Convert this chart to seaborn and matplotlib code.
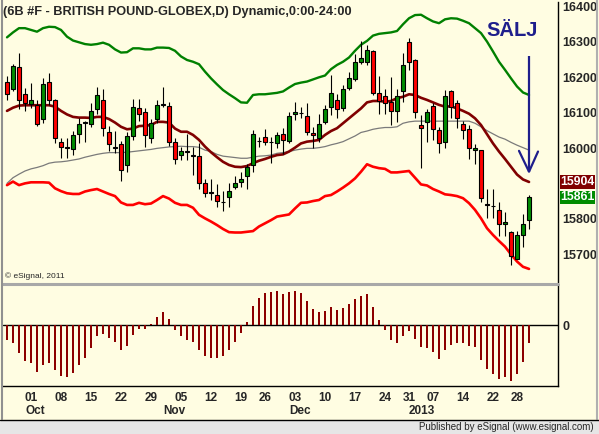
import numpy as np
import pandas as pd
import matplotlib
matplotlib.use("Agg")
import matplotlib.pyplot as plt
import matplotlib.transforms as mtransforms
from matplotlib.patches import Rectangle
from matplotlib.lines import Line2D
import seaborn as sns

sns.set_style("white")
plt.rcParams['font.family'] = ['Liberation Sans', 'DejaVu Sans']

# ---------------- data ----------------
holidays = ["2012-11-22", "2012-12-25", "2013-01-01", "2013-01-21"]
dates = [d for d in pd.bdate_range("2012-09-25", "2013-01-30") if d.strftime("%Y-%m-%d") not in holidays]

opens = [16186,16166,16228,16152,16125,16123,16081,16187,16137,16017,16003,15996,16041,16073,16069,
         16109,16137,16044,16003,16010,15953,16035,16114,16101,16027,16081,16125,16120,16016,15980,
         15991,15979,15978,15900,15874,15868,15847,15862,15890,15904,15921,15953,16021,16030,16017,
         16015,16039,16019,16095,16099,16090,16043,16029,16074,16117,16137,16112,16169,16194,16244,
         16244,16274,16157,16147,16131,16105,16162,16299,16249,16064,16074,16119,16050,16016,16160,
         16126,16068,16055,15994,15994,15841,15837,15826,15786,15763,15687,15755,15796]
highs = [16204,16237,16268,16169,16183,16137,16197,16211,16139,16027,16027,16048,16085,16076,16126,
         16173,16167,16062,16048,16020,16044,16138,16138,16114,16081,16137,16172,16129,16029,16003,
         16041,16003,16013,15912,15912,15897,15878,15900,15921,15933,15956,16051,16032,16055,16032,
         16046,16058,16102,16129,16117,16126,16060,16096,16123,16206,16152,16178,16214,16265,16302,
         16291,16276,16203,16167,16201,16167,16268,16312,16253,16093,16109,16126,16060,16164,16164,
         16135,16076,16065,16010,15995,15885,15885,15848,15820,15765,15765,15812,15868]
lows = [16135,16161,16109,16104,16112,16062,16071,16123,16015,15972,15972,15980,16015,16018,16059,
        16097,16035,15991,15987,15907,15933,16024,16076,16002,16013,16072,16117,16005,15956,15965,
        15965,15923,15885,15862,15852,15833,15822,15833,15884,15890,15884,15933,16003,16008,15958,
        16001,15983,16015,16079,16084,16036,16001,16018,16068,16093,16084,16104,16164,16189,16239,
        16236,16150,16097,16097,16065,16074,16131,16220,16085,15944,16018,16022,15986,16001,16084,
        16057,16025,15970,15956,15848,15801,15801,15752,15752,15670,15687,15720,15772]
closes = [16152,16232,16137,16126,16135,16069,16180,16137,16027,16002,16001,16038,16067,16072,16106,
          16150,16058,16010,16001,15939,16033,16117,16095,16038,16072,16123,16123,16018,15970,15991,
          15989,15977,15902,15874,15873,15851,15846,15878,15900,15912,15945,16041,16020,16018,16016,
          16036,16024,16090,16103,16098,16046,16036,16068,16109,16157,16111,16167,16199,16242,16255,
          16277,16157,16133,16126,16105,16147,16236,16242,16102,16058,16101,16055,16013,16147,16117,
          16084,16052,16001,16001,15859,15840,15836,15786,15791,15695,15753,15784,15861]

upper_band = [16313,16327,16339,16339,16334,16329,16339,16343,16342,16334,16315,16304,16299,16294,16292,
              16294,16298,16292,16279,16270,16271,16282,16282,16279,16279,16284,16284,16283,16275,16259,
              16249,16244,16237,16216,16197,16180,16164,16152,16141,16129,16128,16150,16152,16152,16154,
              16156,16160,16171,16181,16185,16188,16194,16200,16205,16223,16235,16244,16256,16275,16292,
              16303,16318,16323,16325,16327,16331,16350,16367,16376,16377,16367,16358,16353,16364,16367,
              16366,16360,16353,16339,16325,16301,16273,16244,16221,16197,16174,16157,16150]
mid_line = [16105,16114,16120,16121,16121,16121,16121,16121,16117,16105,16095,16088,16086,16086,16085,
            16088,16088,16082,16072,16060,16053,16055,16062,16063,16065,16074,16074,16072,16055,16046,
            16046,16037,16023,16004,15988,15974,15961,15952,15947,15946,15949,15957,15964,15969,15975,
            15980,15982,15990,16001,16013,16018,16020,16023,16037,16048,16056,16070,16084,16098,16112,
            16129,16133,16133,16131,16133,16141,16145,16152,16150,16142,16136,16129,16122,16117,16118,
            16112,16105,16097,16084,16065,16039,16013,15990,15969,15947,15925,15911,15904]
slow_line = [15900,15916,15926,15935,15941,15945,15950,15957,15960,15961,15963,15966,15969,15974,15978,
             15982,15985,15987,15987,15987,15988,15990,15992,15994,15996,15999,16001,16003,16004,16005,
             16004,16004,16002,15994,15990,15982,15977,15975,15973,15971,15971,15974,15977,15978,15980,
             15985,15987,15990,15994,15997,15999,15999,16001,16004,16009,16013,16018,16026,16034,16044,
             16048,16053,16056,16058,16058,16060,16070,16074,16076,16076,16076,16076,16076,16076,16076,
             16076,16076,16076,16070,16060,16049,16040,16031,16025,16016,16008,16001,15994]
lower_band = [15895,15905,15895,15900,15903,15903,15903,15902,15886,15878,15872,15870,15870,15877,15881,
              15884,15877,15870,15864,15846,15839,15839,15845,15841,15843,15853,15864,15857,15845,15839,
              15839,15831,15811,15801,15792,15782,15771,15762,15761,15761,15763,15765,15778,15787,15796,
              15806,15809,15812,15829,15845,15846,15850,15853,15864,15867,15877,15888,15900,15914,15933,
              15954,15947,15943,15941,15931,15931,15933,15935,15916,15897,15894,15884,15877,15869,15867,
              15864,15858,15844,15825,15801,15773,15754,15737,15721,15699,15679,15664,15658]
oscillator = [-45,-53,-83,-107,-115,-140,-120,-113,-135,-152,
              -155,-143,-120,-98,-68,-32,-28,-38,-50,-75,
              -62,-30,-12,-12,4,24,39,18,-15,-32,
              -45,-50,-75,-93,-98,-98,-92,-75,-50,-23,
              9,57,80,95,98,102,93,98,102,95,
              72,48,40,42,55,45,52,63,78,88,
              93,55,15,-15,-45,-53,-32,-18,-42,-65,
              -68,-80,-102,-75,-60,-53,-53,-63,-65,-105,
              -132,-147,-162,-155,-167,-147,-110,-53]

# 15900 is hidden behind the last-value boxes in the reference
price_ticks = [15700, 15800, 16000, 16100, 16200, 16300, 16400]
tick_dates = ["2012-10-01","2012-10-08","2012-10-15","2012-10-22","2012-10-29","2012-11-05",
              "2012-11-12","2012-11-19","2012-11-26","2012-12-03","2012-12-10","2012-12-17",
              "2012-12-24","2012-12-31","2013-01-07","2013-01-14","2013-01-22","2013-01-28"]
tick_labels = ["01","08","15","22","29","05","12","19","26","03","10","17","24","31","07","14","22","28"]
month_dates = ["2012-10-01", "2012-11-01", "2012-12-03", "2013-01-02"]
month_labels = ["Oct", "Nov", "Dec", "2013"]

title = "(6B #F - BRITISH POUND-GLOBEX,D) Dynamic,0:00-24:00"

# ---------------- figure ----------------
W, H = 599, 434
BG = "#FFFDE2"
fig = plt.figure(figsize=(W / 100, H / 100), dpi=100, facecolor=BG)

def fx(px):
    return px / W

def fy(py):
    return 1 - py / H

ax1 = fig.add_axes([fx(3), fy(282), fx(555), (282 - 2) / H])
ax2 = fig.add_axes([fx(3), fy(386), fx(555), (386 - 285) / H])
for ax in (ax1, ax2):
    ax.set_facecolor(BG)

idx = np.arange(len(dates))
date_str = [d.strftime("%Y-%m-%d") for d in dates]
df = pd.DataFrame({"i": idx, "open": opens, "high": highs, "low": lows, "close": closes,
                   "upper": upper_band, "mid": mid_line, "slow": slow_line, "lower": lower_band,
                   "osc": oscillator})

# bands / averages
sns.lineplot(data=df, x="i", y="slow", color="#7A7A7A", lw=0.9, ax=ax1, legend=False)
sns.lineplot(data=df, x="i", y="upper", color="#008000", lw=1.7, ax=ax1, legend=False)
sns.lineplot(data=df, x="i", y="lower", color="#FF0000", lw=1.9, ax=ax1, legend=False)
sns.lineplot(data=df, x="i", y="mid", color="#800000", lw=1.9, ax=ax1, legend=False)

# candles
o = df["open"].to_numpy(); c = df["close"].to_numpy()
ax1.vlines(idx, df["low"], df["high"], color="black", lw=0.8, zorder=3)
body_lo = np.minimum(o, c)
body_h = np.maximum(np.abs(c - o), 1.2)
cols = np.where(c > o + 1, "#008C00", np.where(c < o - 1, "#FF0000", "black"))
ax1.bar(idx, body_h, bottom=body_lo, width=0.72, color=cols, edgecolor="black",
        linewidth=0.8, zorder=4)

ax1.set_xlim(-0.667, 91.83)
ax1.set_ylim(15621, 16413)
ax1.yaxis.tick_right()
ax1.set_yticks(price_ticks)
ax1.set_yticklabels([str(t) for t in price_ticks], fontsize=9, fontweight="bold")
ax1.tick_params(axis="y", length=0, pad=3)
ax1.set_xticks([])
ax1.set_xlabel(""); ax1.set_ylabel("")
for s in ("top", "left", "bottom"):
    ax1.spines[s].set_visible(False)
ax1.spines["right"].set_color("black")
ax1.spines["right"].set_linewidth(1.0)

# last value boxes
tr_box = mtransforms.blended_transform_factory(ax1.transAxes, ax1.transData)
ax1.text(1.004, mid_line[-1], str(mid_line[-1]), transform=tr_box,
         ha="left", va="center", fontsize=8.8, fontweight="bold", color="white",
         bbox=dict(boxstyle="square,pad=0.05", fc="#800000", ec="none"))
ax1.text(1.004, closes[-1], str(closes[-1]), transform=tr_box,
         ha="left", va="center", fontsize=8.8, fontweight="bold", color="white",
         bbox=dict(boxstyle="square,pad=0.05", fc="#008C00", ec="none"))

# SÄLJ arrow
navy = "#1E1E8C"
last = idx[-1]
ax1.plot([last, last], [16259, 15933], color=navy, lw=1.6, solid_capstyle="butt", zorder=5)
ax1.plot([last - 1.67, last, last + 1.5], [15992, 15933, 15990], color=navy, lw=1.6, zorder=5)
fig.text(fx(512), fy(30), "SÄLJ", ha="center", va="center", fontsize=14.5,
         fontweight="bold", color=navy)

# oscillator
ax2.bar(idx, df["osc"], width=0.34, color="#8C0000", linewidth=0, antialiased=False, zorder=3)
ax2.axhline(0, color="black", lw=1.0, zorder=2)
ax2.set_xlim(-0.667, 91.83)
ax2.set_ylim(-183, 120)
ax2.yaxis.tick_right()
ax2.set_yticks([0])
ax2.set_yticklabels(["0"], fontsize=9, fontweight="bold")
ax2.tick_params(axis="y", length=0, pad=3)
tick_pos = [date_str.index(d) for d in tick_dates]
ax2.set_xticks(tick_pos)
ax2.set_xticklabels(tick_labels, fontsize=8.5, fontweight="bold")
ax2.tick_params(axis="x", length=0, pad=4)
ax2.set_xticks([p - 1 for p in tick_pos], minor=True)
ax2.tick_params(axis="x", which="minor", direction="in", length=3, width=0.8, color="black")
ax2.set_xlabel(""); ax2.set_ylabel("")
for s in ("top", "left"):
    ax2.spines[s].set_visible(False)
for s in ("right", "bottom"):
    ax2.spines[s].set_color("black")
    ax2.spines[s].set_linewidth(1.0)

trans_m = mtransforms.blended_transform_factory(ax2.transData, fig.transFigure)
for d, lab in zip(month_dates, month_labels):
    ax2.text(date_str.index(d) - 1, fy(411), lab, transform=trans_m, ha="left", va="center",
             fontsize=8.5, fontweight="bold")

# texts
fig.text(fx(3), fy(12), title, ha="left", va="center", fontsize=9.2, fontweight="bold")
fig.text(fx(5), fy(276), "© eSignal, 2011", ha="left", va="center", fontsize=6)

# frame decorations
fig.add_artist(Line2D([fx(2), fx(558)], [fy(283.5), fy(283.5)], color="#A8A8A8", lw=2.2))
fig.add_artist(Line2D([fx(1.5), fx(1.5)], [fy(0), fy(419)], color="#909090", lw=1.5))
fig.add_artist(Line2D([fx(597), fx(597)], [fy(0), fy(419)], color="#B0B0B0", lw=1.5))
fig.add_artist(Rectangle((0, 0), 1, (434 - 419.5) / H, transform=fig.transFigure,
                         facecolor="#E6E6E6", edgecolor="none"))
fig.add_artist(Line2D([0, 1], [fy(419.5), fy(419.5)], color="black", lw=1.0))
fig.text(fx(594), fy(427), "Published by eSignal (www.esignal.com)", ha="right", va="center",
         fontsize=7)

fig.savefig("out.png", dpi=100, facecolor=BG)
